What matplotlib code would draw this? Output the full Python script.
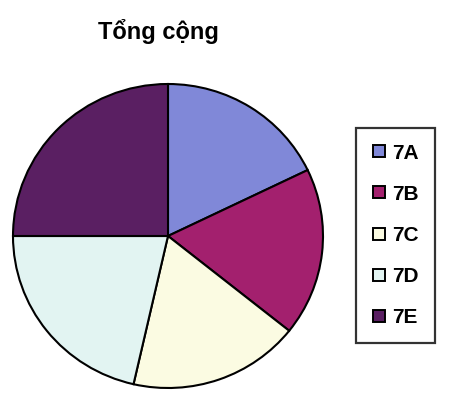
"""Pie chart: Tổng cộng, classes 7A-7E."""

import matplotlib

matplotlib.use("Agg")
import matplotlib.pyplot as plt
from matplotlib.lines import Line2D

classes = ["7A", "7B", "7C", "7D", "7E"]
totals = [40, 40, 40, 48, 56]
colors = ["#8088d8", "#a3206e", "#fbfbe2", "#e2f4f2", "#5a1f62"]

plt.rcParams["font.family"] = ["Liberation Sans", "DejaVu Sans"]


def main() -> None:
    fig = plt.figure(figsize=(4.73, 3.98), dpi=100)

    # pie centre ~ (168, 236) px, radius ~ 155 x 152 px (slightly squashed)
    W, H = 473, 398
    cx, cy, rx, ry = 168, 236, 155, 152
    ax = fig.add_axes([(cx - rx) / W, (H - cy - ry) / H, 2 * rx / W, 2 * ry / H])
    ax.pie(
        totals,
        colors=colors,
        startangle=90,
        counterclock=False,
        radius=1.0,
        wedgeprops=dict(edgecolor="black", linewidth=1.5),
    )
    ax.set_xlim(-1.0, 1.0)
    ax.set_ylim(-1.0, 1.0)
    ax.set_aspect("auto")
    ax.axis("off")

    fig.text(158 / W, 1 - 31 / H, "Tổng cộng", ha="center", va="center",
             fontsize=17, fontweight="bold")

    handles = [
        Line2D([], [], linestyle="none", marker="s", markersize=9,
               markerfacecolor=c, markeredgecolor="black", markeredgewidth=1.4)
        for c in colors
    ]
    leg = fig.legend(
        handles, classes,
        loc="upper left",
        bbox_to_anchor=(356 / W, 1 - 128 / H),
        bbox_transform=fig.transFigure,
        borderaxespad=0,
        prop=dict(size=15, weight="bold"),
        labelspacing=1.06,
        handlelength=0.7,
        handletextpad=0.3,
        borderpad=0.75,
        fancybox=False,
        frameon=True,
    )
    leg.get_frame().set_edgecolor("black")
    leg.get_frame().set_linewidth(1.6)

    fig.savefig("out.png", dpi=100)
    plt.close(fig)


if __name__ == "__main__":
    main()
